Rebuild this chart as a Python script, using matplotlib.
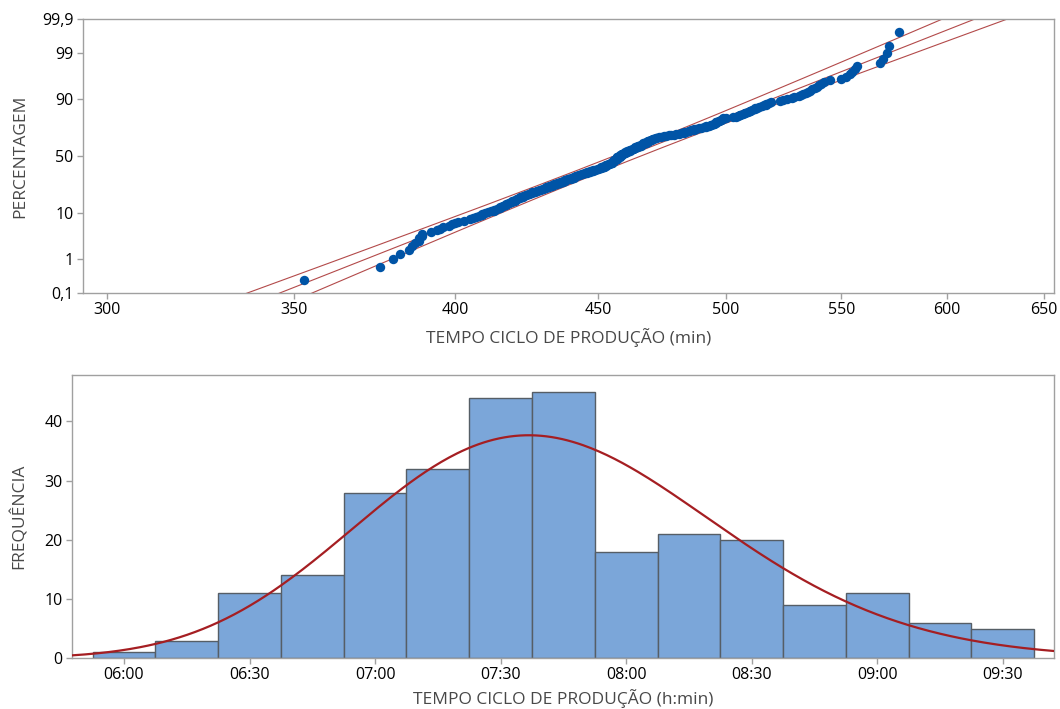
import numpy as np
import matplotlib
matplotlib.use('Agg')
import matplotlib.pyplot as plt
from matplotlib.ticker import NullLocator
from statistics import NormalDist

plt.rcParams['font.family'] = ['Open Sans', 'DejaVu Sans']

# tempos de ciclo (min), por classe do histograma
classe_01 = [353]
classe_02 = [376, 380, 382]
classe_03 = [385, 386, 387, 388, 388, 389, 389, 392, 394, 395, 396]
classe_04 = [398, 399, 400, 401, 403, 405, 406, 407, 408, 409, 409, 410, 411, 412]
classe_05 = [413, 413, 414, 415, 415, 416, 416, 417, 417, 418, 418, 419, 419, 420,
             420, 421, 421, 422, 422, 423, 423, 424, 424, 425, 425, 426, 426, 427]
classe_06 = [428, 428, 429, 429, 430, 430, 431, 431, 432, 432, 433, 433, 434, 434,
             435, 435, 436, 436, 437, 437, 438, 438, 438, 439, 439, 440, 440, 441,
             441, 441, 442, 442]
classe_07 = [443, 443, 444, 444, 445, 445, 446, 446, 447, 447, 448, 448, 449, 449,
             450, 450, 451, 451, 451, 452, 452, 452, 453, 453, 453, 454, 454, 454,
             455, 455, 455, 455, 456, 456, 456, 456, 456, 457, 457, 457, 457, 457,
             457, 457]
classe_08 = [458, 458, 458, 458, 459, 459, 459, 459, 460, 460, 460, 461, 461, 461,
             462, 462, 462, 463, 463, 463, 464, 464, 464, 465, 465, 465, 466, 466,
             466, 467, 467, 467, 468, 468, 468, 469, 469, 469, 470, 470, 470, 471,
             471, 472, 472]
classe_09 = [473, 474, 475, 476, 477, 478, 479, 480, 481, 482, 483, 483, 484, 485,
             485, 486, 487, 487]
classe_10 = [488, 489, 490, 491, 492, 492, 493, 494, 494, 495, 495, 496, 496, 496,
             497, 497, 498, 498, 499, 499, 500]
classe_11 = [503, 504, 505, 506, 506, 507, 508, 508, 509, 510, 510, 511, 512, 512,
             513, 514, 515, 516, 517, 517]
classe_12 = [518, 519, 523, 524, 526, 528, 529, 531, 532]
classe_13 = [533, 534, 535, 536, 537, 538, 539, 540, 541, 542, 545]
classe_14 = [550, 552, 554, 555, 556, 557]
classe_15 = [568, 569, 571, 572, 577]

tempos = np.sort(np.array(classe_01 + classe_02 + classe_03 + classe_04 + classe_05 +
                          classe_06 + classe_07 + classe_08 + classe_09 + classe_10 +
                          classe_11 + classe_12 + classe_13 + classe_14 + classe_15,
                          dtype=float))

pct_ticks = [0.1, 1, 10, 50, 90, 99, 99.9]
pct_labels = ['0,1', '1', '10', '50', '90', '99', '99,9']
min_ticks = [300, 350, 400, 450, 500, 550, 600, 650]
hist_edges = [352.5, 367.5, 382.5, 397.5, 412.5, 427.5, 442.5, 457.5, 472.5,
              487.5, 502.5, 517.5, 532.5, 547.5, 562.5, 577.5]
hora_ticks = [360, 390, 420, 450, 480, 510, 540, 570]
hora_labels = ['06:00', '06:30', '07:00', '07:30', '08:00', '08:30', '09:00', '09:30']

nd = NormalDist()
n = len(tempos)
logs = np.log(tempos)
mu = logs.mean()
sg = logs.std()

azul = '#0054A6'
verm = '#A52A2A'
cinza = '#A0A0A0'
txt = '#484848'

fig = plt.figure(figsize=(10.6, 7.09), dpi=100)
ax1 = fig.add_axes([0.078, 0.5863, 0.9166, 0.3865])
ax2 = fig.add_axes([0.0676, 0.0715, 0.927, 0.3992])

# --- gráfico de probabilidade (lognormal) ---
ranks = np.arange(1, n + 1)
zpos = [nd.inv_cdf((r - 0.3) / (n + 0.4)) for r in ranks]
zlim = nd.inv_cdf(0.999)
zz = np.linspace(-3.5, 3.5, 200)
centro = np.exp(mu + zz * sg)
erro = 1.96 * sg * np.sqrt(1.0 / n + zz ** 2 / (2.0 * n))
ax1.plot(np.exp(mu + zz * sg - erro), zz, color=verm, lw=0.8, alpha=0.85)
ax1.plot(centro, zz, color=verm, lw=0.8, alpha=0.85)
ax1.plot(np.exp(mu + zz * sg + erro), zz, color=verm, lw=0.8, alpha=0.85)
ax1.scatter(tempos, zpos, s=46, color=azul, zorder=3, linewidths=0)

ax1.set_xscale('log')
ax1.set_xlim(294.1, 655.6)
ax1.set_xticks(min_ticks)
ax1.set_xticklabels([str(t) for t in min_ticks])
ax1.xaxis.set_minor_locator(NullLocator())
ax1.set_ylim(-zlim, zlim)
ax1.set_yticks([nd.inv_cdf(p / 100.0) for p in pct_ticks])
ax1.set_yticklabels(pct_labels)
ax1.set_ylabel('PERCENTAGEM', color=txt, fontsize=12.5, labelpad=10)
ax1.set_xlabel('TEMPO CICLO DE PRODUÇÃO (min)', color=txt, fontsize=12.5, labelpad=7)

# --- histograma ---
ax2.hist(tempos, bins=hist_edges, color='#7BA6D9', edgecolor='#565E66', linewidth=1.0,
         zorder=2)
xs = np.linspace(340, 590, 400)
dens = np.exp(-(np.log(xs) - mu) ** 2 / (2 * sg ** 2)) / (xs * sg * np.sqrt(2 * np.pi))
ax2.plot(xs, dens * n * 15, color='#A51E22', lw=1.6, zorder=3)
ax2.set_xlim(347.5, 582.3)
ax2.set_ylim(0, 47.8)
ax2.set_xticks(hora_ticks)
ax2.set_xticklabels(hora_labels)
ax2.set_yticks([0, 10, 20, 30, 40])
ax2.set_ylabel('FREQUÊNCIA', color=txt, fontsize=12.5, labelpad=12)
ax2.set_xlabel('TEMPO CICLO DE PRODUÇÃO (h:min)', color=txt, fontsize=12.5, labelpad=4)

for ax in (ax1, ax2):
    for sp in ax.spines.values():
        sp.set_color(cinza)
        sp.set_linewidth(1.0)
    ax.tick_params(direction='out', length=4.5, width=1, color=cinza,
                   labelsize=11.5, labelcolor='black', pad=2)

fig.savefig('out.png', dpi=100)
